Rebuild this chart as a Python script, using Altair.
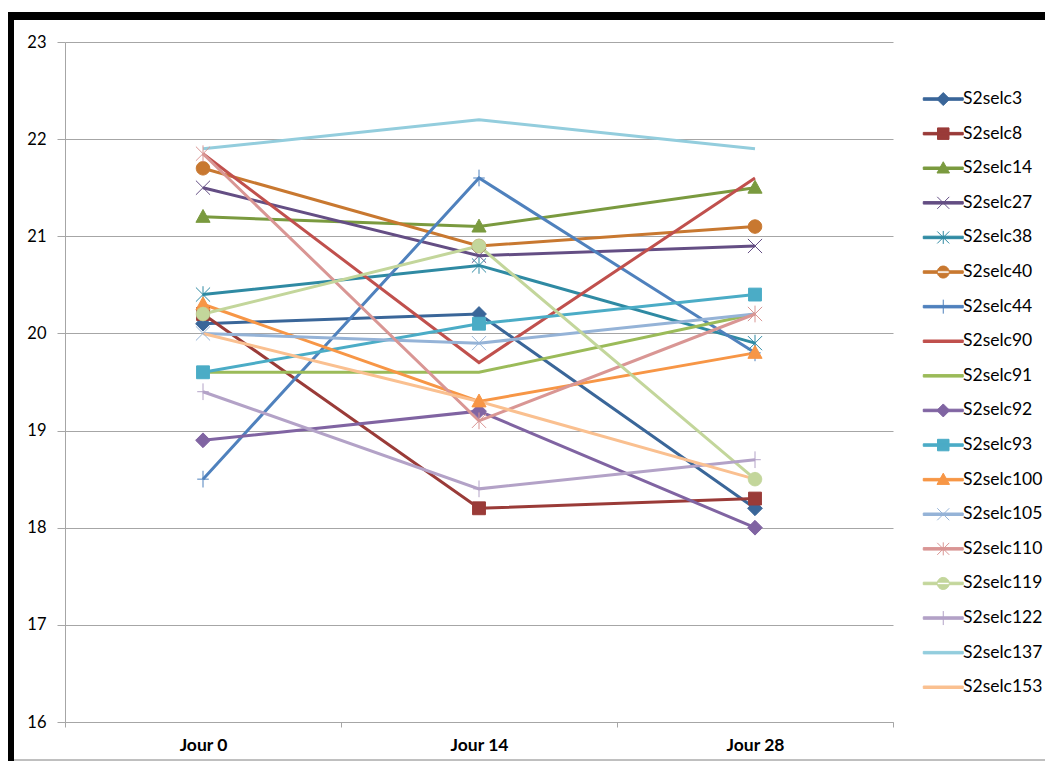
import altair as alt
import pandas as pd

# ---- data ----
CATEGORIES = ["Jour 0", "Jour 14", "Jour 28"]
SERIES = ["S2selc3", "S2selc8", "S2selc14", "S2selc27", "S2selc38", "S2selc40",
          "S2selc44", "S2selc90", "S2selc91", "S2selc92", "S2selc93", "S2selc100",
          "S2selc105", "S2selc110", "S2selc119", "S2selc122", "S2selc137", "S2selc153"]

s2selc3 = [20.1, 20.2, 18.2]
s2selc8 = [20.2, 18.2, 18.3]
s2selc14 = [21.2, 21.1, 21.5]
s2selc27 = [21.5, 20.8, 20.9]
s2selc38 = [20.4, 20.7, 19.9]
s2selc40 = [21.7, 20.9, 21.1]
s2selc44 = [18.5, 21.6, 19.8]
s2selc90 = [21.85, 19.7, 21.6]
s2selc91 = [19.6, 19.6, 20.2]
s2selc92 = [18.9, 19.2, 18.0]
s2selc93 = [19.6, 20.1, 20.4]
s2selc100 = [20.3, 19.3, 19.8]
s2selc105 = [20.0, 19.9, 20.2]
s2selc110 = [21.85, 19.1, 20.2]
s2selc119 = [20.2, 20.9, 18.5]
s2selc122 = [19.4, 18.4, 18.7]
s2selc137 = [21.9, 22.2, 21.9]
s2selc153 = [20.0, 19.3, 18.5]

VALUES = [s2selc3, s2selc8, s2selc14, s2selc27, s2selc38, s2selc40, s2selc44,
          s2selc90, s2selc91, s2selc92, s2selc93, s2selc100, s2selc105,
          s2selc110, s2selc119, s2selc122, s2selc137, s2selc153]

COLORS = ["#3A6699", "#9A3B38", "#7A9A3F", "#644E84", "#2F8AA3", "#C87830",
          "#4F81BD", "#C0504D", "#9BBB59", "#8064A2", "#4BACC6", "#F79646",
          "#95B3D7", "#D99694", "#C3D69B", "#B3A2C7", "#93CDDD", "#FAC090"]

MARKERS = ["diamond", "square", "triangle", "x", "star", "circle",
           "plus", "none", "none", "diamond", "square", "triangle",
           "x", "star", "circle", "plus", "none", "none"]

Y_TICKS = [16, 17, 18, 19, 20, 21, 22, 23]

# ---- marker paths ----
PLOT_PATHS = {
    "diamond": "M0,-1.15L1.15,0L0,1.15L-1.15,0Z",
    "square": "M-1,-1H1V1H-1Z",
    "triangle": "M0,-1.15L1.1,0.85H-1.1Z",
    "circle": "M-1.05,0A1.05,1.05 0 1,0 1.05,0A1.05,1.05 0 1,0 -1.05,0Z",
    "x": "M-1.1,-1.1L1.1,1.1M-1.1,1.1L1.1,-1.1",
    "star": "M-1.1,-1.1L1.1,1.1M-1.1,1.1L1.1,-1.1M0,-1.3V1.3",
    "plus": "M-0.9,0H0.9M0,-1.3V1.3",
    "none": "M0,0",
}
LEG_LINE = "M-4,-0.25H4V0.25H-4Z"
LEG_PATHS = {
    "diamond": "M0,-1.3L1.3,0L0,1.3L-1.3,0Z",
    "square": "M-1.15,-1.15H1.15V1.15H-1.15Z",
    "triangle": "M0,-1.3L1.25,0.95H-1.25Z",
    "circle": "M-1.2,0A1.2,1.2 0 1,0 1.2,0A1.2,1.2 0 1,0 -1.2,0Z",
    "x": "M-1.2,-1.2L1.2,1.2M-1.2,1.2L1.2,-1.2",
    "star": "M-1.2,-1.2L1.2,1.2M-1.2,1.2L1.2,-1.2M0,-1.3V1.3",
    "plus": "M-1,0H1M0,-1.4V1.4",
    "none": "",
}
plot_shapes = [PLOT_PATHS[m] for m in MARKERS]
legend_shapes = [LEG_LINE + LEG_PATHS[m] for m in MARKERS]

rows = []
for name, vals, mk in zip(SERIES, VALUES, MARKERS):
    for cat, v in zip(CATEGORIES, vals):
        rows.append({"series": name, "jour": cat, "value": v, "marker": mk})
df = pd.DataFrame(rows)
points_df = df[df["marker"] != "none"]

FONT = "Lato"
GRID = "#A6A6A6"

x_enc = alt.X("jour:N", sort=CATEGORIES, title=None,
              scale=alt.Scale(type="band", paddingInner=0, paddingOuter=0),
              axis=alt.Axis(labelAngle=0, tickBand="extent", grid=False,
                            domainColor=GRID, tickColor=GRID, tickSize=5,
                            labelFont=FONT, labelFontSize=17.5, labelFontWeight="bold",
                            labelColor="#000000", labelPadding=9))
y_enc = alt.Y("value:Q", title=None,
              scale=alt.Scale(domain=[16, 23], nice=False, zero=False),
              axis=alt.Axis(values=Y_TICKS, grid=True, gridColor=GRID,
                            domainColor=GRID, tickColor=GRID, tickSize=8,
                            labelFont=FONT, labelFontSize=16.5, labelColor="#000000",
                            labelPadding=11))

lines = alt.Chart(df).mark_line(strokeWidth=3).encode(
    x=x_enc, y=y_enc,
    stroke=alt.Stroke("series:N", scale=alt.Scale(domain=SERIES, range=COLORS), legend=None),
)

points = alt.Chart(points_df).mark_point(filled=True, opacity=1, strokeWidth=1, size=165).encode(
    x=x_enc, y=y_enc,
    fill=alt.Fill("series:N", scale=alt.Scale(domain=SERIES, range=COLORS), legend=None),
    stroke=alt.Stroke("series:N", scale=alt.Scale(domain=SERIES, range=COLORS), legend=None),
    shape=alt.Shape("series:N", scale=alt.Scale(domain=SERIES, range=plot_shapes), legend=None),
)

leg = alt.Legend(orient="none", legendX=869.5, legendY=48.3, title=None, padding=0,
                 symbolSize=100, symbolStrokeWidth=1, labelOffset=11,
                 labelFont=FONT, labelFontSize=17.5, labelColor="#000000",
                 rowPadding=15.6, labelLimit=200)

legend_layer = alt.Chart(df).transform_filter("false").mark_point(
    filled=True, opacity=1, strokeWidth=1, size=100).encode(
    x=x_enc, y=y_enc,
    fill=alt.Fill("series:N", scale=alt.Scale(domain=SERIES, range=COLORS), legend=leg),
    stroke=alt.Stroke("series:N", scale=alt.Scale(domain=SERIES, range=COLORS), legend=leg),
    shape=alt.Shape("series:N", scale=alt.Scale(domain=SERIES, range=legend_shapes), legend=leg),
)

frame_data = alt.Data(values=[{"k": 1}])
frame_left = alt.Chart(frame_data).mark_rect(color="#000000").encode(
    x=alt.value(-57), x2=alt.value(-51), y=alt.value(-30), y2=alt.value(719))
frame_top = alt.Chart(frame_data).mark_rect(color="#000000").encode(
    x=alt.value(-57), x2=alt.value(980), y=alt.value(-30), y2=alt.value(-22))
frame_bottom = alt.Chart(frame_data).mark_rule(color="#808080", strokeWidth=1).encode(
    x=alt.value(-51), x2=alt.value(980), y=alt.value(718))

chart = alt.layer(frame_left, frame_top, frame_bottom, lines, points, legend_layer).resolve_scale(
    stroke="independent", fill="independent", shape="independent"
).properties(
    width=828, height=680,
    padding={"left": 57, "top": 34, "right": 152, "bottom": 39},
    autosize=alt.AutoSizeParams(type="none"),
    background="#FFFFFF",
).configure_view(stroke=None)

chart.save("out.html", embed_options={"renderer": "svg", "actions": False})
